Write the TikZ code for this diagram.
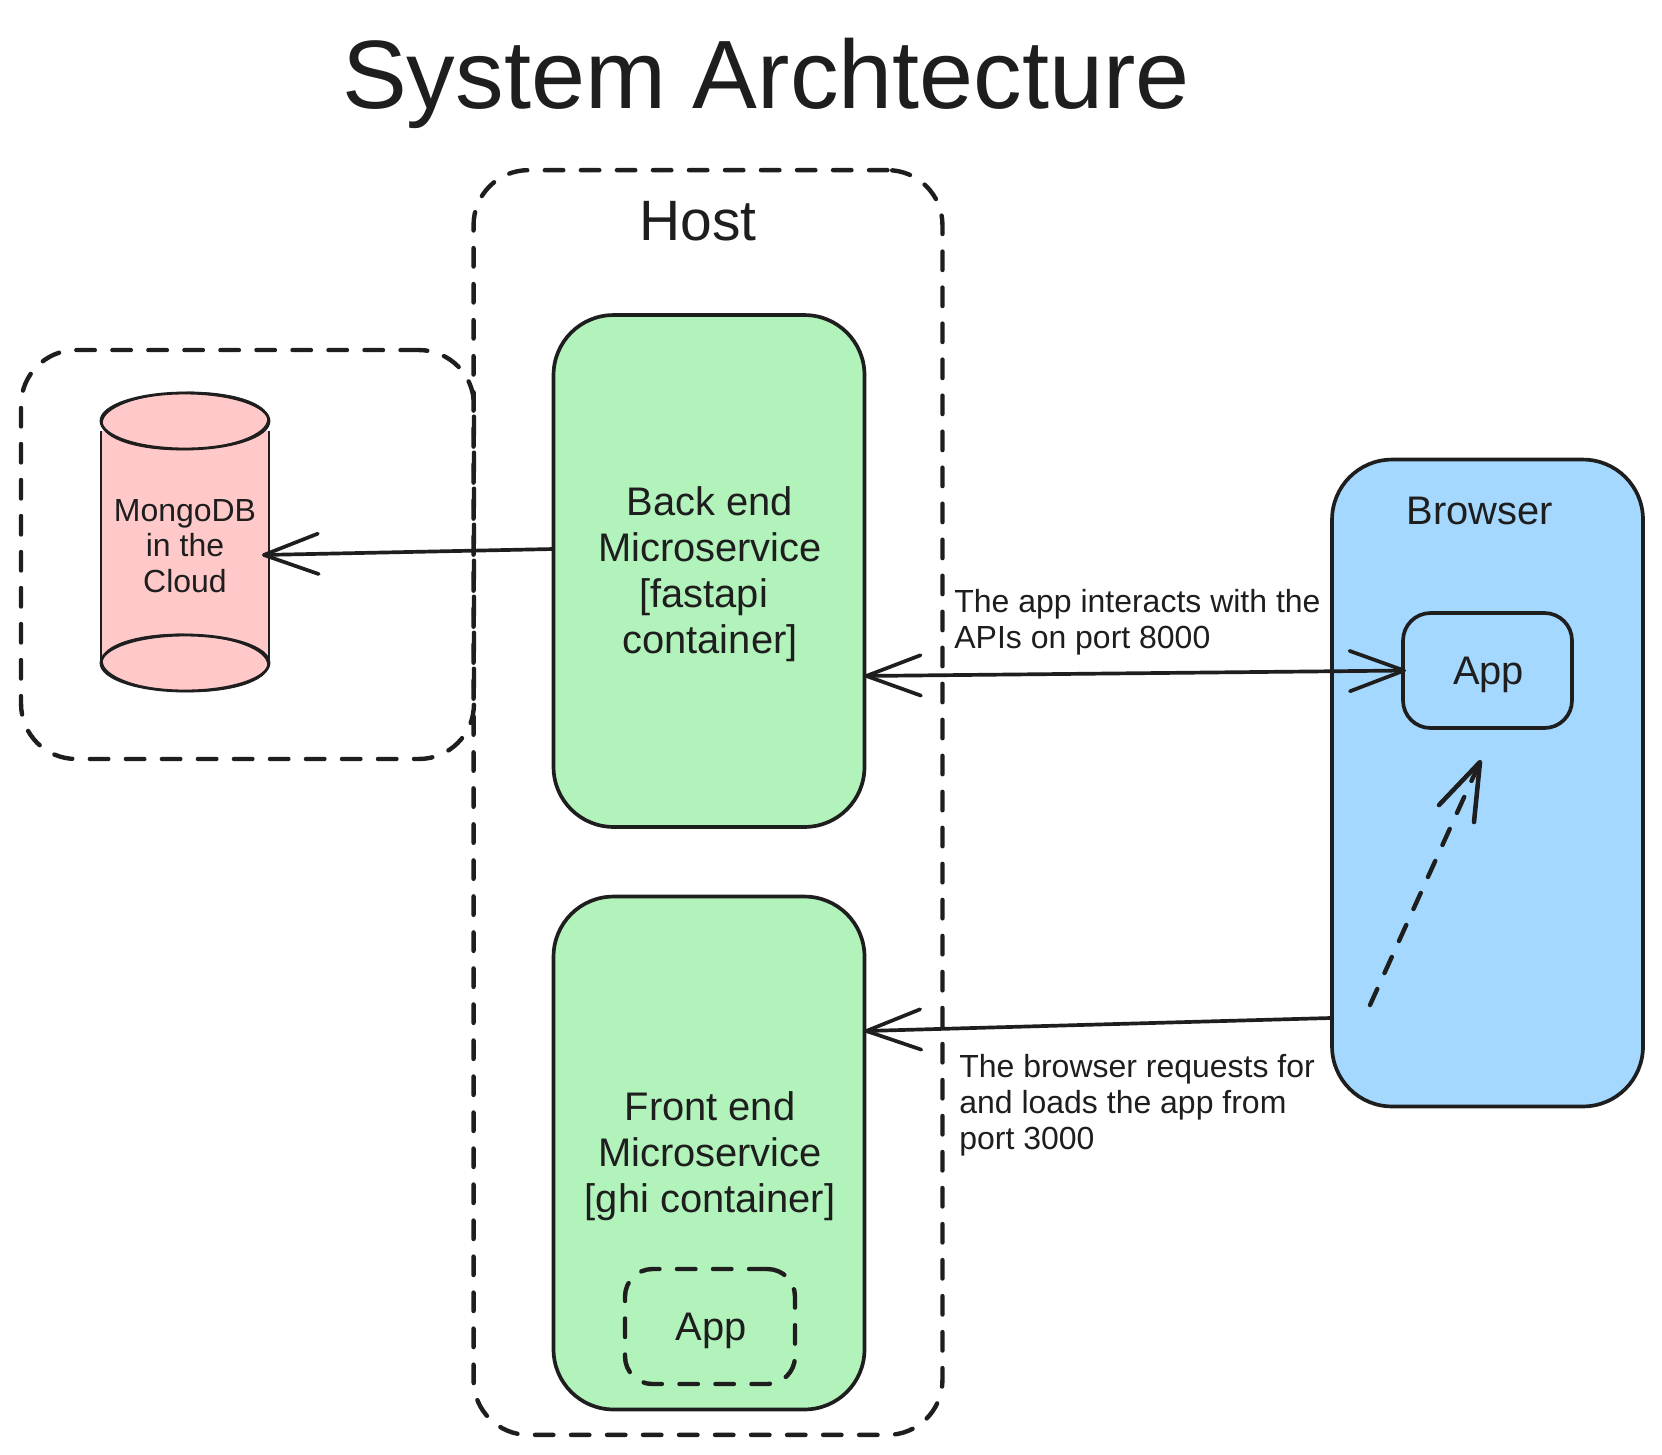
\documentclass[tikz,border=0pt]{standalone}
\usepackage{fontspec}
\setmainfont{Liberation Sans}
\usetikzlibrary{arrows.meta,shapes.geometric}
\definecolor{ink}{HTML}{1E1E1E}
\definecolor{greenfill}{HTML}{B2F2BB}
\definecolor{bluefill}{HTML}{A5D8FF}
\definecolor{pinkfill}{HTML}{FFC9C9}
\tikzset{
  ink line/.style={draw=ink,line width=2.1pt},
  dash line/.style={draw=ink,line width=2.5pt,line cap=round,dash pattern=on 10.5pt off 10pt},
  roundbox/.style={rectangle,inner sep=0pt,outer sep=0pt,align=center,text=ink},
  midtext/.style={font=\fontsize{22.7}{26.2}\selectfont,text=ink,align=center},
  smalltext/.style={font=\fontsize{18.2}{20.4}\selectfont,text=ink,align=left,inner sep=0pt},
  barb/.style={-{Straight Barb[length=31pt,width=23pt,line width=2.1pt,round]}},
  twobarb/.style={{Straight Barb[length=31pt,width=23pt,line width=2.1pt,round]}-{Straight Barb[length=31pt,width=23pt,line width=2.1pt,round]}},
  cylend/.style={ellipse,draw=ink,line width=1.6pt,fill=pinkfill,inner sep=0pt,minimum width=3.36cm,minimum height=1.12cm},
  sketchline/.style={draw=ink,line width=0.8pt},
}
\begin{document}
\begin{tikzpicture}[x=0.02cm,y=-0.02cm]
\useasboundingbox (0,0) rectangle (1662,1454);
\fill[white] (0,0) rectangle (1662,1454);
% title
\node[anchor=base,inner sep=0pt,text=ink,font=\fontsize{55.3}{60}\selectfont] (title) at (766,108.5) {System Archtecture};
% green boxes
\node[roundbox,ink line,fill=greenfill,rounded corners=1.2cm,minimum width=6.22cm,minimum height=10.24cm] (back) at (709,571) {};
\node[roundbox,ink line,fill=greenfill,rounded corners=1.2cm,minimum width=6.22cm,minimum height=10.26cm] (front) at (709,1153) {};
\node[midtext] (backlabel) at (710,574) {Back end\\Microservice\\{}[fastapi\makebox[0.32em]{}\\container]};
\node[midtext] (frontlabel) at (710,1156) {Front end\\Microservice\\{}[ghi container]};
% dashed frames
\node[roundbox,dash line,rounded corners=1.1cm,minimum width=9.38cm,minimum height=25.3cm] (host) at (708,802.5) {};
\node[roundbox,dash line,rounded corners=1.1cm,minimum width=9.06cm,minimum height=8.18cm] (cloud) at (247.5,554.5) {};
\node[anchor=base,inner sep=0pt,text=ink,font=\fontsize{32.4}{36}\selectfont] (hostlabel) at (698,240.5) {Host};
\node[roundbox,dash line,rounded corners=0.55cm,minimum width=3.4cm,minimum height=2.3cm] (appd) at (710,1326.5) {};
\node[midtext] (appdlabel) at (711,1330.7) {App};
% cylinder
\node[roundbox,fill=pinkfill,minimum width=3.36cm,minimum height=4.6cm,font=\fontsize{18.2}{20.4}\selectfont] (cyl) at (185,546) {MongoDB\\in the\\Cloud};
\draw[draw=ink,line width=1pt] (cyl.north west) -- (cyl.south west);
\draw[draw=ink,line width=1pt] (cyl.north east) -- (cyl.south east);
\node[cylend] (cyltop) at (185,421) {};
\node[cylend] (cylbot) at (185,663) {};
\draw[sketchline,rotate around={1.5:(cyltop)}] (cyltop) ellipse [x radius=1.66cm,y radius=0.57cm];
\draw[sketchline,rotate around={-1.5:(cylbot)}] (cylbot) ellipse [x radius=1.66cm,y radius=0.57cm];
% browser
\node[roundbox,ink line,fill=bluefill,rounded corners=1.2cm,minimum width=6.22cm,minimum height=12.94cm] (browser) at (1487.5,783) {};
\node[anchor=base,inner sep=0pt,midtext] (browserlabel) at (1480,524) {Browser};
\node[roundbox,ink line,fill=bluefill,rounded corners=0.55cm,minimum width=3.38cm,minimum height=2.3cm] (app) at (1487.5,670.5) {};
\node[midtext] (applabel) at (1488.5,674.7) {App};
% connectors
\draw[ink line,barb] ([yshift=0.44cm]back.west) -- ([xshift=-0.14cm,yshift=-0.18cm]cyl.east);
\draw[ink line,twobarb] ([yshift=-2.1cm]back.east) -- ([xshift=0.06cm]app.west);
\draw[ink line,barb] ([yshift=-4.7cm]browser.west) -- ([yshift=2.44cm]front.east);
\coordinate (dashstart) at (1370,1005);
\coordinate (dashend) at (1480,762);
\draw[draw=ink,line width=2.5pt,line cap=round,dash pattern=on 10pt off 10pt] (dashstart) -- (dashend);
\draw[ink line,line width=2.6pt,line cap=round,line join=round] (1439,805) -- (dashend) -- (1474,822);
% labels
\node[smalltext,anchor=west] (label1) at (954,622) {The app interacts with the\\APIs on port 8000};
\node[smalltext,anchor=west] (label2) at (959,1105) {The browser requests for\\and loads the app from\\port 3000};
\end{tikzpicture}
\end{document}
